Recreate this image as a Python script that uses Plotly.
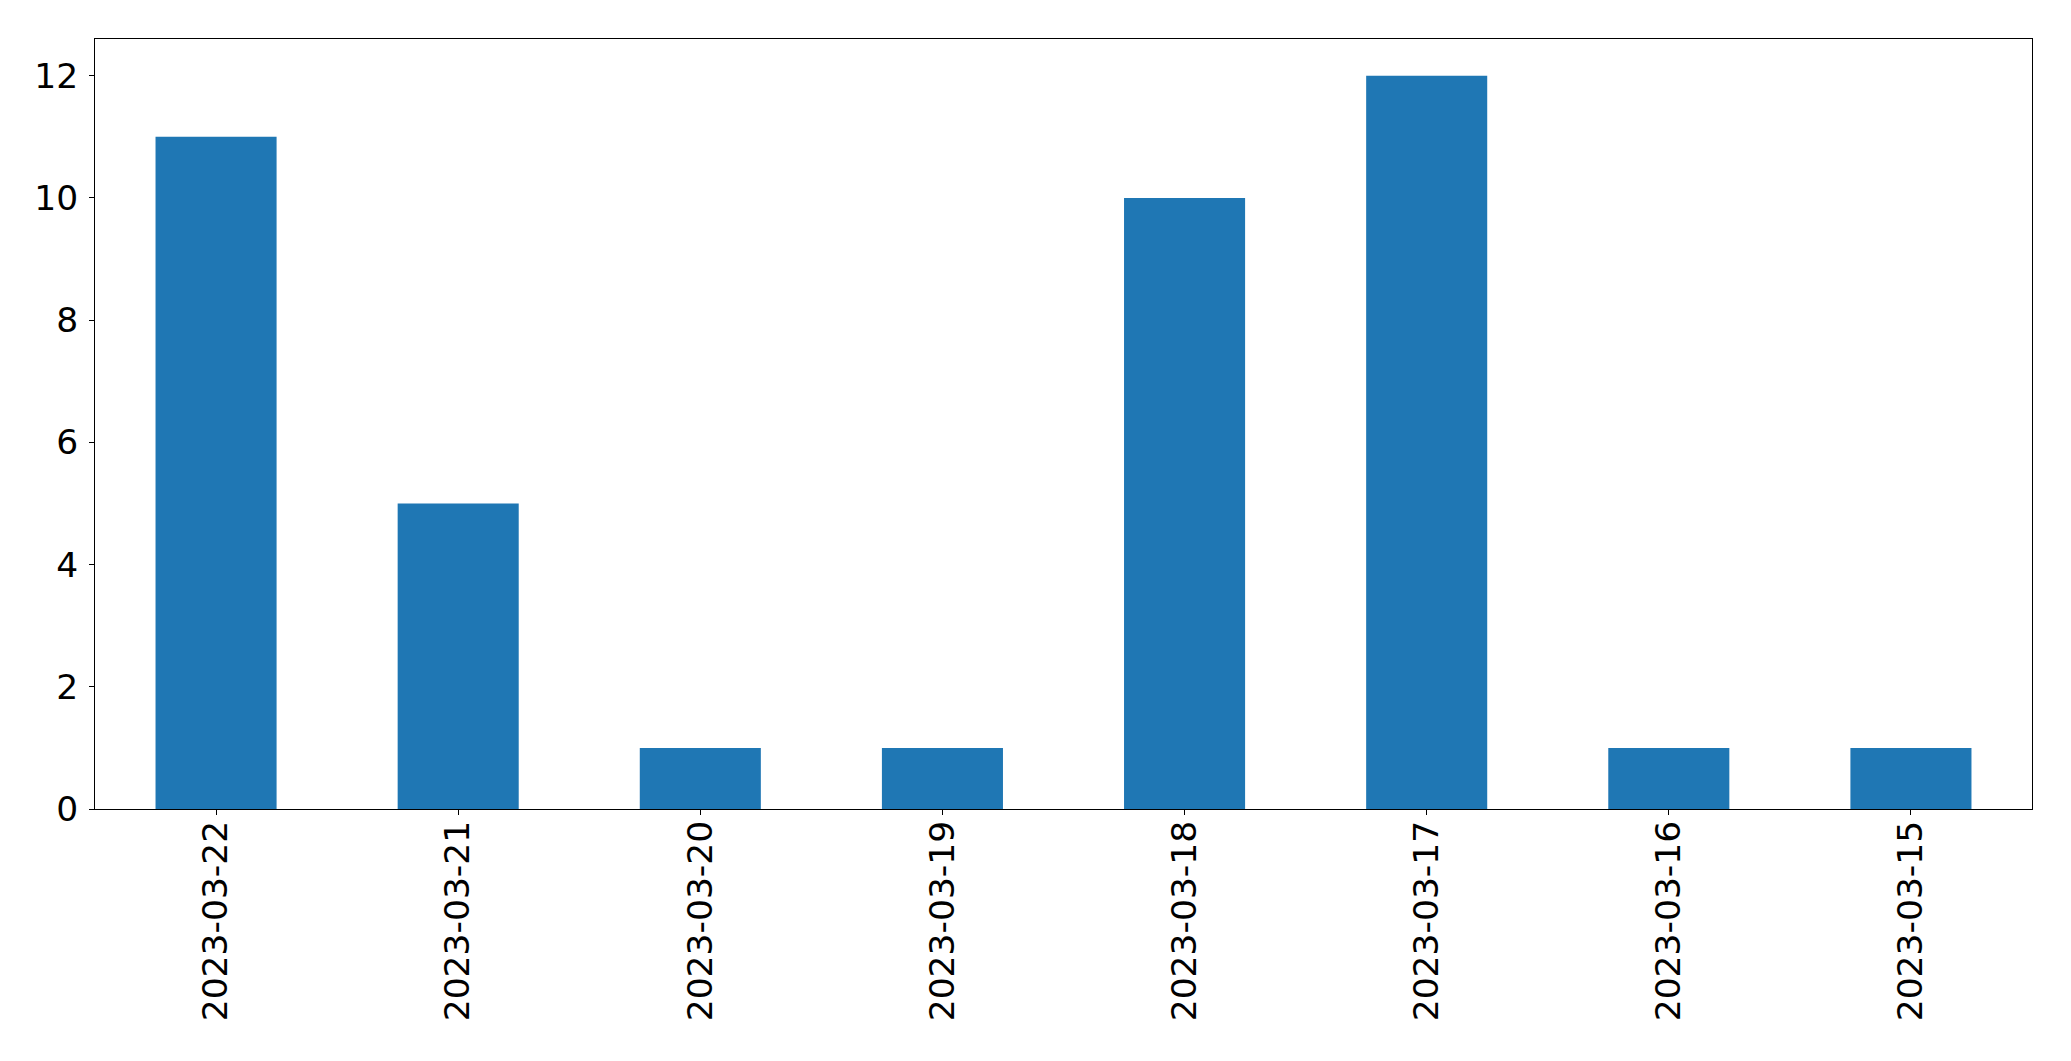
import plotly.graph_objects as go

categories = ["2023-03-22", "2023-03-21", "2023-03-20", "2023-03-19",
              "2023-03-18", "2023-03-17", "2023-03-16", "2023-03-15"]
values = [11, 5, 1, 1, 10, 12, 1, 1]
y_ticks = [0, 2, 4, 6, 8, 10, 12]

fig = go.Figure(go.Bar(
    x=list(range(len(categories))), y=values,
    width=0.5, marker=dict(color="#1f77b4", line=dict(width=0)),
))

font = dict(family="DejaVu Sans", size=34.5, color="black")
fig.update_layout(
    width=2071, height=1061,
    margin=dict(l=94.5, r=39, t=39, b=252, pad=0),
    plot_bgcolor="white", paper_bgcolor="white",
    showlegend=False,
    font=font,
)
fig.update_xaxes(
    range=[-0.5, len(categories) - 0.5],
    tickmode="array", tickvals=list(range(len(categories))), ticktext=categories,
    tickangle=-90, ticks="outside", ticklen=5, tickwidth=1, tickcolor="black",
    showline=True, linecolor="black", linewidth=1, mirror=True,
    showgrid=False, zeroline=False, tickfont=font, ticklabelstandoff=-8,
    automargin=False,
)
fig.update_yaxes(
    range=[0, 12.6],
    tickmode="array", tickvals=y_ticks,
    ticks="outside", ticklen=5, tickwidth=1, tickcolor="black",
    showline=True, linecolor="black", linewidth=1, mirror=True,
    showgrid=False, zeroline=False, tickfont=font, ticklabelstandoff=4,
    automargin=False,
)
fig.write_html("out.html", config={"displayModeBar": False},
               post_script="document.body.style.margin='0';")
